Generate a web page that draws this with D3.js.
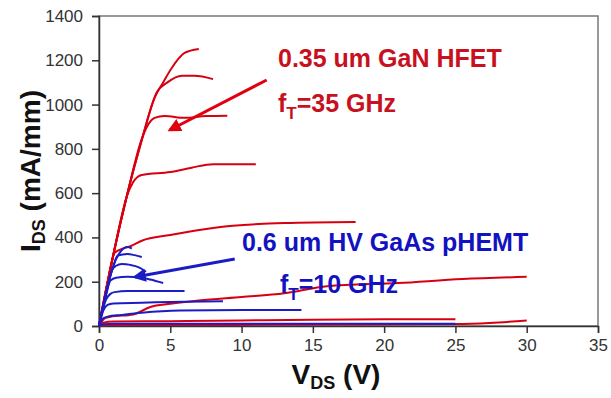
<!DOCTYPE html>
<html>
<head>
<meta charset="utf-8">
<script src="https://cdn.jsdelivr.net/npm/d3@7"></script>
<style>
  body { margin: 0; background: #fff; }
  svg { display: block; font-family: Arial, "Liberation Sans", sans-serif; }
</style>
</head>
<body>
<div id="chart"></div>
<script>
// I-V curves, [V_DS (V), I_DS (mA/mm)]
const ganCurves = [
  [[0,0],[1,320],[2,600],[3,840],[3.9,1030],[4.5,1100],[5.1,1165],[6,1233],[7,1251]],
  [[0,0],[1,320],[2,600],[3,840],[4.05,1055],[4.8,1100],[5.8,1130],[6.7,1130],[8,1115]],
  [[0,0],[1,320],[2,600],[3,845],[3.5,915],[3.9,940],[4.6,948],[6,940],[7.5,948],[9,950]],
  [[0,0],[1,320],[1.95,585],[2.4,650],[3,682],[5,695],[6.5,715],[8,731],[11,731]],
  [[0,0],[0.6,200],[1.1,330],[1.7,350],[2.2,360],[3,385],[5,411],[8,443],[13,465],[18,470]],
  [[0,0],[0.4,35],[0.8,42],[2.4,52],[3.6,86],[5,100],[7,115],[10,131],[13,148],[16,180],[21,194],[25.5,212],[30,222]],
  [[0,0],[0.3,15],[1,20],[5,22],[10,25],[15,28],[20,30],[25,31]],
  [[0,0],[0.5,5],[10,5],[20,7],[25,9],[27.4,14],[30,25]]
];
const gaasCurves = [
  [[0,0],[0.5,150],[1,270],[1.5,335],[2,357],[2.3,350]],
  [[0,0],[0.5,150],[1,270],[1.3,318],[2,325],[2.5,320],[3,312]],
  [[0,0],[0.5,145],[0.9,250],[1.2,272],[1.6,280],[2.2,276],[2.8,265],[3.3,245]],
  [[0,0],[0.5,140],[0.8,205],[1.2,218],[2,222],[3,218],[3.6,210],[4.5,194]],
  [[0,0],[0.5,120],[0.8,145],[1.1,153],[2,158],[4,158],[6,158]],
  [[0,0],[0.3,70],[0.6,95],[1,102],[3,105],[6,110],[8.7,112]],
  [[0,0],[0.3,35],[0.6,42],[1.6,50],[3,60],[5.7,70],[10,72],[14.2,72]],
  [[0,0],[0.3,8],[1,10],[10,10],[20,10],[25,10]]
];
const xTicks = [0, 5, 10, 15, 20, 25, 30, 35];
const yTicks = [0, 200, 400, 600, 800, 1000, 1200, 1400];
// annotation arrows, [from, to] in data units
const ganArrow = [[11.76, 1111], [4.97, 885]];
const gaasArrow = [[9.52, 303], [2.52, 221]];

const width = 611, height = 398;
const margin = { top: 16, right: 13, bottom: 72, left: 99 };

const svg = d3.select('#chart').append('svg')
  .attr('width', width)
  .attr('height', height);

const x = d3.scaleLinear().domain([0, 35]).range([margin.left, width - margin.right]);
const y = d3.scaleLinear().domain([0, 1400]).range([height - margin.bottom, margin.top]);

// frame
svg.append('rect')
  .attr('x', x(0)).attr('y', y(1400))
  .attr('width', x(35) - x(0)).attr('height', y(0) - y(1400))
  .attr('fill', 'none').attr('stroke', '#777').attr('stroke-width', 1.5);

const xAxis = svg.append('g')
  .attr('transform', `translate(0,${y(0)})`)
  .call(d3.axisBottom(x).tickValues(xTicks).tickSize(7).tickPadding(6).tickFormat(d3.format('d')));
const yAxis = svg.append('g')
  .attr('transform', `translate(${x(0)},0)`)
  .call(d3.axisLeft(y).tickValues(yTicks).tickSize(7).tickPadding(9).tickFormat(d3.format('d')));

[xAxis, yAxis].forEach(g => {
  g.select('.domain').attr('stroke', '#333').attr('stroke-width', 1.5);
  g.selectAll('.tick line').attr('stroke', '#333').attr('stroke-width', 1.5);
  g.selectAll('.tick text').attr('font-size', 17).attr('fill', '#333')
    .attr('font-family', 'Arial, "Liberation Sans", sans-serif');
});

const line = d3.line().x(d => x(d[0])).y(d => y(d[1])).curve(d3.curveMonotoneX);

svg.append('g').selectAll('path')
  .data(ganCurves)
  .join('path')
  .attr('d', line)
  .attr('fill', 'none')
  .attr('stroke', '#d80010')
  .attr('stroke-width', 2);

svg.append('g').selectAll('path')
  .data(gaasCurves)
  .join('path')
  .attr('d', line)
  .attr('fill', 'none')
  .attr('stroke', '#1c1cc4')
  .attr('stroke-width', 2);

const defs = svg.append('defs');
function marker(id, color) {
  defs.append('marker')
    .attr('id', id)
    .attr('viewBox', '0 0 10 10')
    .attr('refX', 8).attr('refY', 5)
    .attr('markerWidth', 4.5).attr('markerHeight', 4.5)
    .attr('orient', 'auto')
    .append('path').attr('d', 'M0,0L10,5L0,10Z').attr('fill', color);
}
marker('headRed', '#e00010');
marker('headBlue', '#1c1cc4');

function arrow(a, color, id) {
  svg.append('line')
    .attr('x1', x(a[0][0])).attr('y1', y(a[0][1]))
    .attr('x2', x(a[1][0])).attr('y2', y(a[1][1]))
    .attr('stroke', color).attr('stroke-width', 3)
    .attr('marker-end', `url(#${id})`);
}
arrow(ganArrow, '#e00010', 'headRed');
arrow(gaasArrow, '#1c1cc4', 'headBlue');

// annotations
const red = '#c8101e', blue = '#1212c0';
svg.append('text').attr('x', 278).attr('y', 67)
  .attr('font-size', 25).attr('font-weight', 'bold').attr('fill', red)
  .text('0.35 um GaN HFET');
const ft1 = svg.append('text').attr('x', 278).attr('y', 112)
  .attr('font-size', 25).attr('font-weight', 'bold').attr('fill', red);
ft1.append('tspan').text('f');
ft1.append('tspan').attr('font-size', 17).attr('dy', 7).text('T');
ft1.append('tspan').attr('dy', -7).text('=35 GHz');

svg.append('text').attr('x', 242).attr('y', 251)
  .attr('font-size', 25).attr('font-weight', 'bold').attr('fill', blue)
  .text('0.6 um HV GaAs pHEMT');
const ft2 = svg.append('text').attr('x', 280).attr('y', 293)
  .attr('font-size', 25).attr('font-weight', 'bold').attr('fill', blue);
ft2.append('tspan').text('f');
ft2.append('tspan').attr('font-size', 17).attr('dy', 7).text('T');
ft2.append('tspan').attr('dy', -7).text('=10 GHz');

// axis titles
const xt = svg.append('text')
  .attr('x', 336).attr('y', 384)
  .attr('text-anchor', 'middle')
  .attr('font-size', 28).attr('font-weight', 'bold').attr('fill', '#111');
xt.append('tspan').text('V');
xt.append('tspan').attr('font-size', 18).attr('dy', 5).text('DS');
xt.append('tspan').attr('dy', -5).text(' (V)');

const yt = svg.append('text')
  .attr('transform', `translate(40,${(y(0) + y(1400)) / 2}) rotate(-90)`)
  .attr('text-anchor', 'middle')
  .attr('font-size', 28).attr('font-weight', 'bold').attr('fill', '#111');
yt.append('tspan').text('I');
yt.append('tspan').attr('font-size', 18).attr('dy', 5).text('DS');
yt.append('tspan').attr('dy', -5).text(' (mA/mm)');
</script>
</body>
</html>
